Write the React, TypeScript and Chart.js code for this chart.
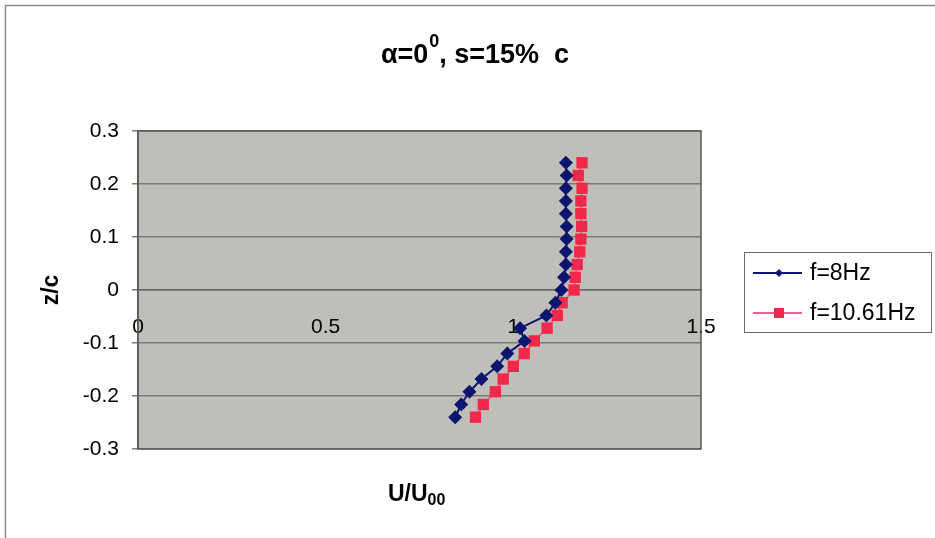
import React, { useEffect, useRef } from "react";
import { Chart, registerables } from "chart.js";

Chart.register(...registerables);

// ---- data ----
const zPositions = [0.24, 0.216, 0.192, 0.168, 0.144, 0.12, 0.096, 0.072, 0.048, 0.024, 0, -0.024, -0.048, -0.072, -0.096, -0.12, -0.144, -0.168, -0.192, -0.216, -0.24];
const u8Hz = [1.14, 1.142, 1.14, 1.14, 1.14, 1.142, 1.142, 1.14, 1.14, 1.135, 1.128, 1.112, 1.088, 1.018, 1.03, 0.984, 0.957, 0.915, 0.883, 0.861, 0.845];
const u1061Hz = [1.183, 1.173, 1.183, 1.18, 1.18, 1.182, 1.18, 1.177, 1.17, 1.165, 1.162, 1.13, 1.117, 1.09, 1.056, 1.029, 1.0, 0.973, 0.952, 0.92, 0.899];
const seriesNames = ["f=8Hz", "f=10.61Hz"];
const xTicks = [0, 0.5, 1, 1.5];
const yTicks = [-0.3, -0.2, -0.1, 0, 0.1, 0.2, 0.3];

const BLUE = "#0c1670";
const RED_MARK = "#f0284a";
const RED_LINE = "#f0608a";
const FONT = "'Liberation Sans', Arial, sans-serif";

const decorPlugin = {
  id: "decor",
  beforeDraw(chart: any) {
    const { ctx, chartArea: a, width, height } = chart;
    ctx.save();
    ctx.fillStyle = "#ffffff";
    ctx.fillRect(0, 0, width, height);
    // outer border
    ctx.strokeStyle = "#8a8a8a";
    ctx.lineWidth = 1.5;
    ctx.beginPath();
    ctx.moveTo(5.5, height);
    ctx.lineTo(5.5, 5.5);
    ctx.lineTo(width, 5.5);
    ctx.stroke();
    // plot background
    ctx.fillStyle = "#c0beb9";
    ctx.fillRect(a.left, a.top, a.right - a.left, a.bottom - a.top);
    ctx.restore();
  },
  beforeDatasetsDraw(chart: any) {
    const { ctx, chartArea: a } = chart;
    ctx.save();
    ctx.strokeStyle = "#5a5a5a";
    ctx.lineWidth = 1.5;
    ctx.strokeRect(a.left, a.top, a.right - a.left, a.bottom - a.top);
    ctx.restore();
  },
  afterDraw(chart: any) {
    const { ctx } = chart;
    ctx.save();
    ctx.fillStyle = "#000";
    ctx.textBaseline = "alphabetic";
    // title with superscript
    const big = `bold 27px ${FONT}`;
    const sup = `bold 18px ${FONT}`;
    const p1 = "\u03b1=0";
    const p2 = "0";
    const p3 = ", s=15%  c";
    ctx.font = big;
    const w1 = ctx.measureText(p1).width;
    const w3 = ctx.measureText(p3).width;
    ctx.font = sup;
    const w2 = ctx.measureText(p2).width;
    let x = 475 - (w1 + w2 + w3 + 1) / 2;
    ctx.font = big;
    ctx.textAlign = "left";
    ctx.fillText(p1, x, 63);
    x += w1;
    ctx.font = sup;
    ctx.fillText(p2, x + 1, 47);
    x += w2 + 1;
    ctx.font = big;
    ctx.fillText(p3, x, 63);

    // x axis title U/U00
    ctx.font = `bold 23px ${FONT}`;
    const t1 = "U/U";
    const tw1 = ctx.measureText(t1).width;
    ctx.fillText(t1, 388, 501);
    ctx.font = `bold 16px ${FONT}`;
    ctx.fillText("00", 388 + tw1, 505);

    // y axis title
    ctx.save();
    ctx.translate(58, 290);
    ctx.rotate(-Math.PI / 2);
    ctx.font = `bold 23px ${FONT}`;
    ctx.textAlign = "center";
    ctx.fillText("z/c", 0, 0);
    ctx.restore();

    // legend
    const lx = 744, ly = 252, lw = 187, lh = 80;
    ctx.strokeStyle = "#6a6a6a";
    ctx.lineWidth = 1;
    ctx.strokeRect(lx + 0.5, ly + 0.5, lw, lh);
    const ds = chart.data.datasets;
    const rows = [273, 313];
    ds.forEach((d: any, i: number) => {
      const y = rows[i];
      ctx.strokeStyle = d.borderColor;
      ctx.lineWidth = 2;
      ctx.beginPath();
      ctx.moveTo(753, y);
      ctx.lineTo(802, y);
      ctx.stroke();
      ctx.fillStyle = d.pointBackgroundColor;
      if (i === 0) {
        ctx.beginPath();
        ctx.moveTo(779 - 4, y);
        ctx.lineTo(779, y - 4);
        ctx.lineTo(779 + 4, y);
        ctx.lineTo(779, y + 4);
        ctx.closePath();
        ctx.fill();
      } else {
        ctx.fillRect(779 - 5, y - 5, 10, 10);
      }
      ctx.fillStyle = "#000";
      ctx.font = `23px ${FONT}`;
      ctx.textAlign = "left";
      ctx.textBaseline = "middle";
      ctx.fillText(d.label, 810, y + 1);
      ctx.textBaseline = "alphabetic";
    });
    ctx.restore();
  },
};

export default function App() {
  const ref = useRef<HTMLCanvasElement | null>(null);
  useEffect(() => {
    document.body.style.margin = "0";
    const canvas = ref.current!;
    const chart = new Chart(canvas, {
      type: "scatter",
      data: {
        datasets: [
          {
            label: seriesNames[0],
            data: zPositions.map((z, i) => ({ x: u8Hz[i], y: z })),
            showLine: true,
            borderColor: BLUE,
            borderWidth: 2,
            pointStyle: "rectRot",
            pointRadius: 7,
            pointBackgroundColor: BLUE,
            pointBorderColor: BLUE,
            pointBorderWidth: 0,
          },
          {
            label: seriesNames[1],
            data: zPositions.map((z, i) => ({ x: u1061Hz[i], y: z })),
            showLine: true,
            borderColor: RED_LINE,
            borderWidth: 2,
            pointStyle: "rect",
            pointRadius: 8,
            pointBackgroundColor: RED_MARK,
            pointBorderColor: RED_MARK,
            pointBorderWidth: 0,
          },
        ],
      },
      options: {
        responsive: false,
        animation: false,
        layout: { padding: { left: 0, top: 131, right: 234, bottom: 89 } },
        plugins: {
          legend: { display: false },
          title: { display: false },
          tooltip: { enabled: false },
        },
        scales: {
          x: {
            type: "linear",
            position: { y: 0 } as any,
            min: 0,
            max: 1.5,
            afterBuildTicks: (s: any) => {
              s.ticks = xTicks.map((v) => ({ value: v }));
            },
            ticks: {
              padding: 25,
              color: "#000",
              font: { family: FONT, size: 21 },
              maxRotation: 0,
              callback: (v: any) => String(v),
            },
            grid: { display: false, drawTicks: false },
            border: { display: true, color: "#666", width: 1.5 },
          },
          y: {
            type: "linear",
            min: -0.3,
            max: 0.3,
            afterBuildTicks: (s: any) => {
              s.ticks = yTicks.map((v) => ({ value: v }));
            },
            afterFit: (s: any) => {
              s.width = 138;
            },
            ticks: {
              padding: 13,
              color: "#000",
              font: { family: FONT, size: 21 },
              callback: (v: any) => (Math.abs(v) < 1e-9 ? "0" : Number(v).toFixed(1)),
            },
            grid: { color: "#7a7a7a", lineWidth: 1.5, tickLength: 6, tickColor: "#7a7a7a" },
            border: { display: true, color: "#555", width: 1.5 },
          },
        },
      },
      plugins: [decorPlugin],
    });
    return () => chart.destroy();
  }, []);
  return <canvas ref={ref} width={935} height={538} style={{ display: "block" }} />;
}
